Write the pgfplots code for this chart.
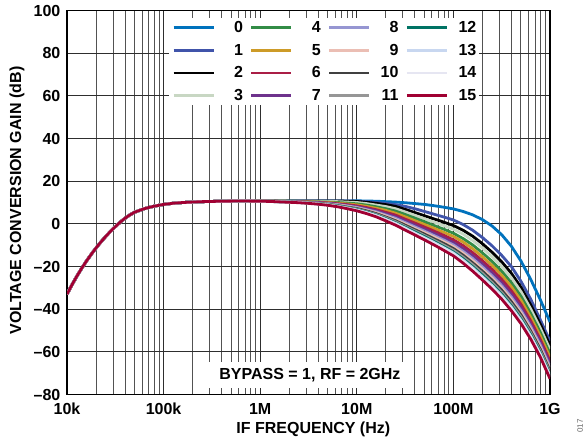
\documentclass[border=0pt]{standalone}
\usepackage{fontspec}
\setmainfont{Liberation Sans}
\usepackage{pgfplots}
\pgfplotsset{compat=1.18}
\usepackage{pgfplotstable}
\definecolor{c0}{RGB}{0,114,189}
\definecolor{c1}{RGB}{64,84,170}
\definecolor{c2}{RGB}{0,0,0}
\definecolor{c3}{RGB}{200,215,195}
\definecolor{c4}{RGB}{50,140,70}
\definecolor{c5}{RGB}{205,155,40}
\definecolor{c6}{RGB}{170,30,70}
\definecolor{c7}{RGB}{110,50,140}
\definecolor{c8}{RGB}{150,150,210}
\definecolor{c9}{RGB}{235,190,180}
\definecolor{c10}{RGB}{64,64,64}
\definecolor{c11}{RGB}{150,150,150}
\definecolor{c12}{RGB}{0,115,100}
\definecolor{c13}{RGB}{200,215,240}
\definecolor{c14}{RGB}{230,230,242}
\definecolor{c15}{RGB}{160,0,50}
\pgfplotstableread{
f c0 c1 c2 c3 c4 c5 c6 c7 c8 c9 c10 c11 c12 c13 c14 c15
10000 -33.0 -33.0 -33.0 -33.0 -33.0 -33.0 -33.0 -33.0 -33.0 -33.0 -33.0 -33.0 -33.0 -33.0 -33.0 -33.0
11220 -28.7 -28.7 -28.7 -28.7 -28.7 -28.7 -28.7 -28.7 -28.7 -28.7 -28.7 -28.7 -28.7 -28.7 -28.7 -28.7
12589 -24.7 -24.7 -24.7 -24.7 -24.7 -24.7 -24.7 -24.7 -24.7 -24.7 -24.7 -24.7 -24.7 -24.7 -24.7 -24.7
14125 -21.0 -21.0 -21.0 -21.0 -21.0 -21.0 -21.0 -21.0 -21.0 -21.0 -21.0 -21.0 -21.0 -21.0 -21.0 -21.0
15849 -17.55 -17.55 -17.55 -17.55 -17.55 -17.55 -17.55 -17.55 -17.55 -17.55 -17.55 -17.55 -17.55 -17.55 -17.55 -17.55
17783 -14.35 -14.35 -14.35 -14.35 -14.35 -14.35 -14.35 -14.35 -14.35 -14.35 -14.35 -14.35 -14.35 -14.35 -14.35 -14.35
19953 -11.35 -11.35 -11.35 -11.35 -11.35 -11.35 -11.35 -11.35 -11.35 -11.35 -11.35 -11.35 -11.35 -11.35 -11.35 -11.35
22387 -8.55 -8.55 -8.55 -8.55 -8.55 -8.55 -8.55 -8.55 -8.55 -8.55 -8.55 -8.55 -8.55 -8.55 -8.55 -8.55
25119 -5.95 -5.95 -5.95 -5.95 -5.95 -5.95 -5.95 -5.95 -5.95 -5.95 -5.95 -5.95 -5.95 -5.95 -5.95 -5.95
28184 -3.55 -3.55 -3.55 -3.55 -3.55 -3.55 -3.55 -3.55 -3.55 -3.55 -3.55 -3.55 -3.55 -3.55 -3.55 -3.55
31623 -1.35 -1.35 -1.35 -1.35 -1.35 -1.35 -1.35 -1.35 -1.35 -1.35 -1.35 -1.35 -1.35 -1.35 -1.35 -1.35
35481 0.75 0.75 0.75 0.75 0.75 0.75 0.75 0.75 0.75 0.75 0.75 0.75 0.75 0.75 0.75 0.75
39811 2.6 2.6 2.6 2.6 2.6 2.6 2.6 2.6 2.6 2.6 2.6 2.6 2.6 2.6 2.6 2.6
44668 4.15 4.15 4.15 4.15 4.15 4.15 4.15 4.15 4.15 4.15 4.15 4.15 4.15 4.15 4.15 4.15
50119 5.45 5.45 5.45 5.45 5.45 5.45 5.45 5.45 5.45 5.45 5.45 5.45 5.45 5.45 5.45 5.45
63096 7.1 7.1 7.1 7.1 7.1 7.1 7.1 7.1 7.1 7.1 7.1 7.1 7.1 7.1 7.1 7.1
79433 8.25 8.25 8.25 8.25 8.25 8.25 8.25 8.25 8.25 8.25 8.25 8.25 8.25 8.25 8.25 8.25
100000 9.1 9.1 9.1 9.1 9.1 9.1 9.1 9.1 9.1 9.1 9.1 9.1 9.1 9.1 9.1 9.1
125893 9.65 9.65 9.65 9.65 9.65 9.65 9.65 9.65 9.65 9.65 9.65 9.65 9.65 9.65 9.65 9.65
158489 10.0 10.0 10.0 10.0 10.0 10.0 10.0 10.0 10.0 10.0 10.0 10.0 10.0 10.0 10.0 10.0
251189 10.4 10.4 10.4 10.4 10.4 10.4 10.4 10.4 10.4 10.4 10.4 10.4 10.4 10.4 10.4 10.4
398107 10.6 10.6 10.6 10.6 10.6 10.6 10.6 10.6 10.6 10.6 10.6 10.6 10.6 10.6 10.6 10.6
630957 10.7 10.7 10.7 10.7 10.7 10.7 10.7 10.7 10.7 10.7 10.7 10.7 10.7 10.7 10.7 10.7
1e6 10.7 10.7 10.7 10.7 10.7 10.7 10.7 10.6 10.6 10.6 10.6 10.6 10.6 10.6 10.6 10.6
1.2589e6 10.7 10.7 10.7 10.7 10.7 10.6 10.6 10.6 10.6 10.6 10.5 10.5 10.5 10.5 10.5 10.5
1.5849e6 10.7 10.7 10.7 10.7 10.6 10.6 10.5 10.5 10.4 10.4 10.4 10.4 10.3 10.3 10.3 10.3
1.9953e6 10.7 10.7 10.7 10.6 10.6 10.5 10.4 10.4 10.3 10.3 10.2 10.2 10.2 10.2 10.1 10.1
2.5119e6 10.7 10.7 10.7 10.6 10.5 10.4 10.3 10.3 10.2 10.1 10.1 10.0 10.0 10.0 9.9 9.9
3.1623e6 10.7 10.7 10.7 10.6 10.4 10.3 10.2 10.1 10.0 9.9 9.9 9.8 9.7 9.7 9.7 9.6
3.9811e6 10.7 10.7 10.7 10.5 10.3 10.2 10.0 9.9 9.7 9.6 9.6 9.5 9.4 9.3 9.3 9.2
5.0119e6 10.7 10.7 10.7 10.5 10.2 10.0 9.8 9.6 9.4 9.3 9.2 9.1 9.0 8.9 8.8 8.7
6.3096e6 10.7 10.7 10.7 10.4 10.0 9.7 9.4 9.2 9.0 8.8 8.6 8.5 8.4 8.2 8.1 8.0
7.9433e6 10.7 10.7 10.6 10.2 9.7 9.3 9.0 8.6 8.4 8.2 7.9 7.7 7.6 7.4 7.3 7.1
1e7 10.8 10.6 10.5 10.0 9.4 8.9 8.4 8.0 7.7 7.4 7.2 6.9 6.7 6.5 6.3 6.1
1.2589e7 10.7 10.4 10.1 9.5 8.8 8.2 7.6 7.1 6.7 6.4 6.1 5.7 5.5 5.3 5.1 4.8
1.5849e7 10.6 10.0 9.6 8.8 8.0 7.3 6.6 6.1 5.6 5.2 4.8 4.4 4.1 3.9 3.6 3.3
1.9953e7 10.4 9.6 9.0 8.1 7.1 6.3 5.4 4.7 4.1 3.7 3.2 2.8 2.4 2.1 1.8 1.4
2.5119e7 10.2 9.0 8.2 7.1 6.0 5.0 4.1 3.3 2.6 2.0 1.5 1.0 0.5 0.2 -0.2 -0.6
3.1623e7 9.9 8.2 6.8 5.6 4.4 3.3 2.2 1.4 0.6 0.0 -0.6 -1.2 -1.6 -2.0 -2.4 -2.9
3.9811e7 9.5 7.1 5.3 4.0 2.7 1.5 0.4 -0.6 -1.4 -2.1 -2.7 -3.3 -3.8 -4.3 -4.7 -5.2
5.0119e7 9.1 5.8 3.8 2.4 1.0 -0.3 -1.5 -2.5 -3.4 -4.1 -4.8 -5.5 -6.0 -6.5 -6.9 -7.5
6.3096e7 8.5 4.5 2.3 0.8 -0.8 -2.1 -3.4 -4.5 -5.5 -6.2 -7.0 -7.7 -8.3 -8.8 -9.3 -9.9
7.9433e7 7.8 3.2 0.8 -0.8 -2.5 -4.0 -5.4 -6.6 -7.6 -8.4 -9.2 -10.0 -10.7 -11.2 -11.7 -12.4
1e8 7.0 1.8 -0.8 -2.5 -4.4 -5.9 -7.5 -8.8 -9.9 -10.7 -11.6 -12.4 -13.2 -13.7 -14.3 -15.0
1.2589e8 5.8 -0.3 -3.0 -4.8 -6.9 -8.5 -10.2 -11.6 -12.9 -13.8 -14.7 -15.6 -16.4 -17.0 -17.6 -18.4
1.5849e8 4.2 -3.0 -5.8 -7.8 -9.9 -11.7 -13.5 -15.0 -16.3 -17.3 -18.3 -19.2 -20.1 -20.7 -21.4 -22.2
1.9953e8 2.0 -6.4 -9.3 -11.3 -13.6 -15.4 -17.3 -18.8 -20.2 -21.2 -22.2 -23.2 -24.1 -24.8 -25.5 -26.3
2.5119e8 -1.0 -10.3 -13.3 -15.4 -17.6 -19.5 -21.4 -23.0 -24.4 -25.4 -26.4 -27.5 -28.4 -29.0 -29.7 -30.6
3.1623e8 -5.1 -14.8 -17.8 -19.9 -22.2 -24.1 -26.0 -27.6 -29.0 -30.0 -31.1 -32.2 -33.0 -33.7 -34.4 -35.3
3.9811e8 -10.5 -20.0 -23.2 -25.3 -27.6 -29.5 -31.4 -33.0 -34.4 -35.5 -36.5 -37.6 -38.4 -39.1 -39.8 -40.7
5.0119e8 -17.5 -27.0 -29.8 -31.8 -34.0 -35.9 -37.8 -39.3 -40.7 -41.7 -42.7 -43.7 -44.6 -45.3 -46.0 -46.8
6.3096e8 -26.0 -35.3 -38.0 -39.9 -42.0 -43.8 -45.5 -47.0 -48.2 -49.2 -50.2 -51.1 -51.9 -52.6 -53.2 -54.0
7.9433e8 -35.6 -45.0 -47.0 -48.9 -50.9 -52.6 -54.3 -55.7 -56.9 -57.9 -58.8 -59.7 -60.5 -61.1 -61.7 -62.5
1e9 -46.0 -55.0 -57.0 -58.9 -60.9 -62.6 -64.3 -65.7 -67.0 -67.9 -68.9 -69.8 -70.6 -71.2 -71.8 -72.6
}\gaindata
\newcommand{\lbl}{\fontsize{16bp}{19bp}\selectfont\bfseries}
\begin{document}
\begin{tikzpicture}
\begin{axis}[
  scale only axis, width=483bp, height=384bp,
  at={(0,0)}, anchor=south west,
  xmode=log, xmin=1e4, xmax=1e9, ymin=-80, ymax=100,
  xtick={1e4,1e5,1e6,1e7,1e8,1e9},
  xticklabels={10k,100k,1M,10M,100M,1G},
  minor xtick={2e4,3e4,4e4,5e4,6e4,7e4,8e4,9e4,2e5,3e5,4e5,5e5,6e5,7e5,8e5,9e5,2e6,3e6,4e6,5e6,6e6,7e6,8e6,9e6,2e7,3e7,4e7,5e7,6e7,7e7,8e7,9e7,2e8,3e8,4e8,5e8,6e8,7e8,8e8,9e8},
  ytick={-80,-60,-40,-20,0,20,40,60,80,100},
  yticklabels={–80,–60,–40,–20,0,20,40,60,80,100},
  grid=both,
  major grid style={black!82, line width=1.0bp},
  minor grid style={black!68, line width=1.0bp},
  major tick length=0pt, minor tick length=0pt,
  axis line style={black, line width=1.3bp},
  tick label style={font=\lbl},
  /pgf/number format/assume math mode=true,
  xticklabel style={anchor=base, yshift=-20bp},
  yticklabel style={anchor=east, inner sep=0pt, xshift=-6.5bp},
  xlabel={IF FREQUENCY (Hz)},
  ylabel={VOLTAGE CONVERSION GAIN (dB)},
  label style={font=\lbl},
  xlabel style={at={(axis description cs:0.51,-0.1016)}, anchor=base},
  ylabel style={at={(axis description cs:-0.0952,0.505)}, anchor=base},
  legend columns=4,
  legend cell align=right,
  legend style={at={(rel axis cs:0.211,0.98)}, anchor=north west, draw=none, fill=white,
    inner sep=3bp, font=\lbl, nodes={inner sep=0pt}, row sep=10bp,
    /tikz/every odd column/.style={column sep=0bp},
    /tikz/every even column/.style={column sep=7bp}},
  legend image code/.code={\draw[#1, line width=2.8bp] (0bp,0bp) -- (40bp,0bp);},
]
\addplot[c0, line width=2.8bp, forget plot] table[x=f, y=c0] {\gaindata};
\addplot[c1, line width=2.8bp, forget plot] table[x=f, y=c1] {\gaindata};
\addplot[c2, line width=2.8bp, forget plot] table[x=f, y=c2] {\gaindata};
\addplot[c3, line width=2.8bp, forget plot] table[x=f, y=c3] {\gaindata};
\addplot[c4, line width=2.8bp, forget plot] table[x=f, y=c4] {\gaindata};
\addplot[c5, line width=2.8bp, forget plot] table[x=f, y=c5] {\gaindata};
\addplot[c6, line width=2.8bp, forget plot] table[x=f, y=c6] {\gaindata};
\addplot[c7, line width=2.8bp, forget plot] table[x=f, y=c7] {\gaindata};
\addplot[c8, line width=2.8bp, forget plot] table[x=f, y=c8] {\gaindata};
\addplot[c9, line width=2.8bp, forget plot] table[x=f, y=c9] {\gaindata};
\addplot[c10, line width=2.8bp, forget plot] table[x=f, y=c10] {\gaindata};
\addplot[c11, line width=2.8bp, forget plot] table[x=f, y=c11] {\gaindata};
\addplot[c12, line width=2.8bp, forget plot] table[x=f, y=c12] {\gaindata};
\addplot[c13, line width=2.8bp, forget plot] table[x=f, y=c13] {\gaindata};
\addplot[c14, line width=2.8bp, forget plot] table[x=f, y=c14] {\gaindata};
\addplot[c15, line width=2.8bp, forget plot] table[x=f, y=c15] {\gaindata};
\addlegendimage{c0}\addlegendentry{\makebox[28bp][r]{0}}
\addlegendimage{c4}\addlegendentry{\makebox[28bp][r]{4}}
\addlegendimage{c8}\addlegendentry{\makebox[28bp][r]{8}}
\addlegendimage{c12}\addlegendentry{\makebox[28bp][r]{12}}
\addlegendimage{c1}\addlegendentry{\makebox[28bp][r]{1}}
\addlegendimage{c5}\addlegendentry{\makebox[28bp][r]{5}}
\addlegendimage{c9}\addlegendentry{\makebox[28bp][r]{9}}
\addlegendimage{c13}\addlegendentry{\makebox[28bp][r]{13}}
\addlegendimage{c2}\addlegendentry{\makebox[28bp][r]{2}}
\addlegendimage{c6}\addlegendentry{\makebox[28bp][r]{6}}
\addlegendimage{c10}\addlegendentry{\makebox[28bp][r]{10}}
\addlegendimage{c14}\addlegendentry{\makebox[28bp][r]{14}}
\addlegendimage{c3}\addlegendentry{\makebox[28bp][r]{3}}
\addlegendimage{c7}\addlegendentry{\makebox[28bp][r]{7}}
\addlegendimage{c11}\addlegendentry{\makebox[28bp][r]{11}}
\addlegendimage{c15}\addlegendentry{\makebox[28bp][r]{15}}
\node[fill=white, inner xsep=10bp, inner ysep=6bp, font=\lbl] at (rel axis cs:0.503,0.051) {BYPASS = 1, RF = 2GHz};
\end{axis}
\node[rotate=90, font=\fontsize{8bp}{9bp}\selectfont, text=black!60] at (513bp,-31.5bp) {017};
\pgfresetboundingbox
\path[use as bounding box] (-67bp,-51.5bp) rectangle (520bp,394.5bp);
\end{tikzpicture}
\end{document}
